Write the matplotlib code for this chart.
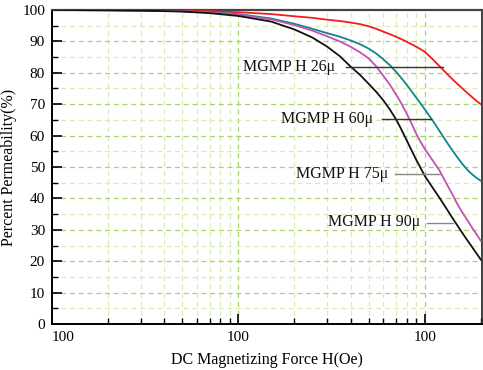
import matplotlib
matplotlib.use("Agg")
import matplotlib.pyplot as plt
from matplotlib.ticker import FixedLocator, NullFormatter

plt.rcParams['font.family'] = ['Liberation Serif', 'DejaVu Serif']

# Data
force = [1, 2, 3, 5, 7, 10, 15, 20, 25, 30, 35, 40, 45, 50, 55, 60, 65, 70, 75, 80,
         85, 90, 95, 100, 110, 120, 130, 140, 150, 160, 170, 180, 190, 200]
h26 = [100, 100, 99.9, 99.8, 99.6, 99.3, 98.7, 98.0, 97.5, 96.9, 96.5, 96.0, 95.5, 94.8, 94.0, 93.1, 92.3,
       91.5, 90.7, 89.9, 89.1, 88.3, 87.5, 86.7, 84.4, 82.1, 80.0, 78.1, 76.4, 74.9, 73.5, 72.2, 71.0, 70.0]
h60 = [100, 99.9, 99.8, 99.6, 99.3, 98.7, 97.3, 95.6, 94.0, 92.6, 91.5, 90.3, 89.1, 87.7, 86.1, 84.3, 82.4,
       80.4, 78.3, 76.2, 74.1, 72.1, 70.2, 68.4, 64.9, 61.5, 58.3, 55.5, 53.0, 50.8, 49.0, 47.6, 46.5, 45.6]
h75 = [100, 99.9, 99.8, 99.6, 99.2, 98.5, 97.0, 95.2, 93.4, 91.6, 90.0, 88.3, 86.5, 84.6, 82.0, 79.0, 76.2,
       73.2, 70.2, 67.0, 63.8, 60.6, 58.0, 55.8, 52.2, 48.9, 45.0, 41.5, 38.1, 35.3, 32.9, 30.6, 28.5, 26.5]
h90 = [100, 99.9, 99.8, 99.5, 99.0, 98.1, 96.3, 93.8, 91.2, 88.3, 85.3, 82.0, 79.3, 76.5, 73.9, 71.2, 68.3,
       65.3, 61.9, 58.5, 55.3, 52.3, 49.7, 47.2, 43.5, 40.2, 37.0, 34.0, 31.3, 28.8, 26.5, 24.4, 22.4, 20.5]

series = [("MGMP H 26\u03bc", h26, "#f21d1d"),
          ("MGMP H 60\u03bc", h60, "#138587"),
          ("MGMP H 75\u03bc", h75, "#c252b4"),
          ("MGMP H 90\u03bc", h90, "#111111")]

# label: (text x, text y, line start x, line end x, line y, line colour)
labels = [(10.6, 81.8, 37.6, 125.0, 81.8, "#333333"),
          (17.0, 65.3, 59.2, 108.0, 65.3, "#333333"),
          (20.5, 47.8, 69.0, 122.0, 47.8, "#888888"),
          (30.1, 32.5, 102.5, 141.6, 32.3, "#888888")]

x_ticks = [1, 10, 100]
x_ticklabels = ["100", "100", "100"]
y_ticks = list(range(0, 101, 10))

fig = plt.figure(figsize=(4.83, 3.70), dpi=100)
ax = fig.add_axes([0.1077, 0.1243, 0.8903, 0.8487])
ax.set_xscale('log')
ax.set_xlim(1, 203)
ax.set_ylim(0, 100)

minor_x = [m * d for d in (1, 10, 100) for m in range(2, 10) if m * d <= 200]
for v in minor_x:
    ax.axvline(v, color="#d9ecb8", lw=0.9, ls=(0, (4, 3)), zorder=0)
for v in (10, 100):
    ax.axvline(v, color="#a8d468", lw=0.9, ls=(0, (4, 3)), zorder=0)
for v in range(5, 100, 10):
    ax.axhline(v, color="#d9ecb8", lw=0.9, ls=(0, (4, 3)), zorder=0)
for v in range(10, 100, 10):
    ax.axhline(v, color="#a8d468", lw=0.9, ls=(0, (4, 3)), zorder=0)

for name, vals, col in series:
    ax.plot(force, vals, color=col, lw=1.3, zorder=3)

for (name, _, _), (tx, ty, x0, x1, ly, lc) in zip(series, labels):
    ax.text(tx, ty, name, fontsize=11.5, ha='left', va='center', color="#111111", zorder=4)
    ax.plot([x0, x1], [ly, ly], color=lc, lw=1.0, zorder=4)

ax.xaxis.set_major_locator(FixedLocator(x_ticks))
ax.set_xticklabels(x_ticklabels)
ax.xaxis.set_minor_locator(FixedLocator(minor_x))
ax.xaxis.set_minor_formatter(NullFormatter())
ax.set_yticks(y_ticks)
ax.yaxis.set_minor_locator(FixedLocator(list(range(5, 100, 10))))

ax.tick_params(which='major', direction='in', length=7, width=1.2, labelsize=11, colors='black', pad=5)
ax.tick_params(which='minor', direction='in', length=4, width=1.0)
ax.tick_params(axis='y', which='both', right=False)
ax.tick_params(axis='x', which='both', top=False)

ax.get_xticklabels()[0].set_horizontalalignment('left')

for s in ('left', 'bottom'):
    ax.spines[s].set_linewidth(1.4)
    ax.spines[s].set_color('black')
ax.spines['top'].set_linewidth(1.6)
ax.spines['top'].set_color('#444444')
ax.spines['right'].set_linewidth(1.2)
ax.spines['right'].set_color('#222222')

ax.set_xlabel("DC Magnetizing Force H(Oe)", fontsize=11.5, labelpad=6)
ax.set_ylabel("Percent Permeability(%)", fontsize=11.5, labelpad=4)

fig.savefig("out.png", dpi=100)
